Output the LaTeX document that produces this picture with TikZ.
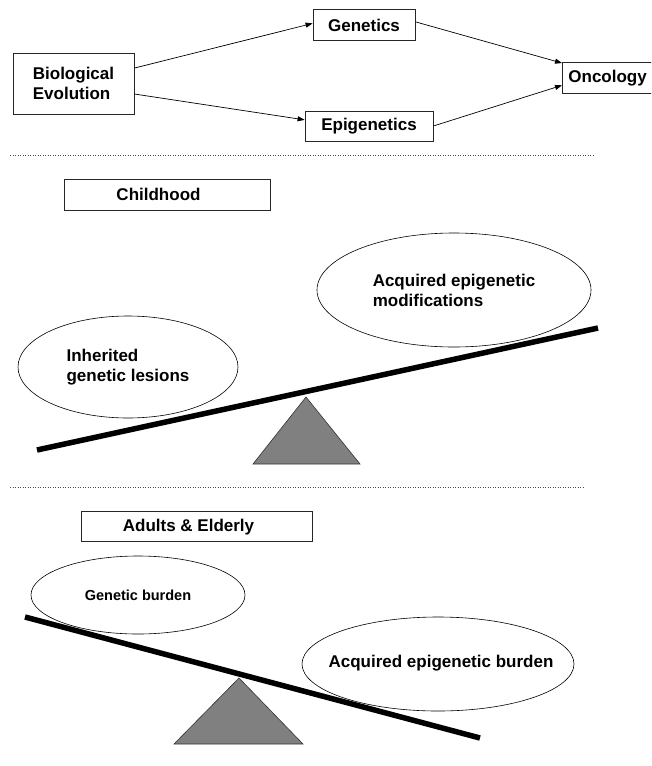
\documentclass[tikz,border=0pt]{standalone}
\usepackage{fontspec}
\setmainfont{Liberation Sans}
\usetikzlibrary{shapes.geometric,arrows.meta,calc}
\begin{document}
\begin{tikzpicture}[x=1pt,y=-1pt,
  font=\bfseries\fontsize{17}{20}\selectfont,
  box/.style={draw=black!85, line width=0.8pt, rectangle, inner sep=0pt, align=center},
  oval/.style={draw=black, line width=0.6pt, ellipse, inner sep=0pt, align=left},
  link/.style={draw=black, line width=0.7pt, -{Triangle[length=7pt,width=5pt]}},
  sep/.style={draw=black!70, line width=0.9pt, dash pattern=on 0.9pt off 1.6pt},
  beam/.style={line width=5.5pt, black},
  pivot/.style={fill=black!50, draw=black!80, line width=0.6pt}]
\useasboundingbox (0,0) rectangle (651,766);
\clip (0,0) rectangle (651,766);

% top flow
\node[box, minimum width=121pt, minimum height=61pt, align=left] (bio) at (73.5,83.5) {Biological\\Evolution};
\node[box, minimum width=102pt, minimum height=31pt] (gen) at (364,25) {Genetics};
\node[box, minimum width=128pt, minimum height=30pt] (epi) at (369,126) {Epigenetics};
\node[box, minimum height=31pt, inner xsep=6pt, anchor=west] (onc) at (562,78) {Oncology};

\draw[link] ($(bio.north east)!0.25!(bio.south east)$) -- ($(gen.north west)!0.45!(gen.south west)$);
\draw[link] ($(bio.north east)!0.67!(bio.south east)$) -- ($(epi.north west)!0.3!(epi.south west)$);
\draw[link] ($(gen.north east)!0.4!(gen.south east)$) -- ($(onc.north west)!0.03!(onc.south west)$);
\draw[link] (epi.east) -- ($(onc.north west)!0.73!(onc.south west)$);

\draw[sep] (10,155) -- (594,155);

% childhood
\node[box, minimum width=206pt, minimum height=31pt] (child) at (167,194.5) {};
\node (childtxt) at (158.5,194.5) {Childhood};

\node[oval, minimum width=274pt, minimum height=114pt] (acq) at (454,290) {Acquired epigenetic\\modifications};
\node[oval, minimum width=220pt, minimum height=102pt] (inh) at (128,367) {Inherited\\genetic lesions};

\filldraw[pivot] (306,397) -- (253,464) -- (360,464) -- cycle;
\draw[beam] (37,450) -- (598,328);

\draw[sep] (10,487) -- (583,487);

% adults
\node[box, minimum width=231pt, minimum height=30pt] (adult) at (196.5,526) {};
\node (adulttxt) at (188.5,527) {Adults \& Elderly};

\node[oval, minimum width=214pt, minimum height=78pt, font=\bfseries\fontsize{14.5}{17}\selectfont] (gb) at (138,595) {Genetic burden};
\node[oval, minimum width=272pt, minimum height=94pt] (aeb) at (438,664) {};
\node (aebtxt) at (441,663) {Acquired epigenetic burden};

\filldraw[pivot] (239,678) -- (174,744) -- (303,744) -- cycle;
\draw[beam] (25,617) -- (480,738);
\end{tikzpicture}
\end{document}
